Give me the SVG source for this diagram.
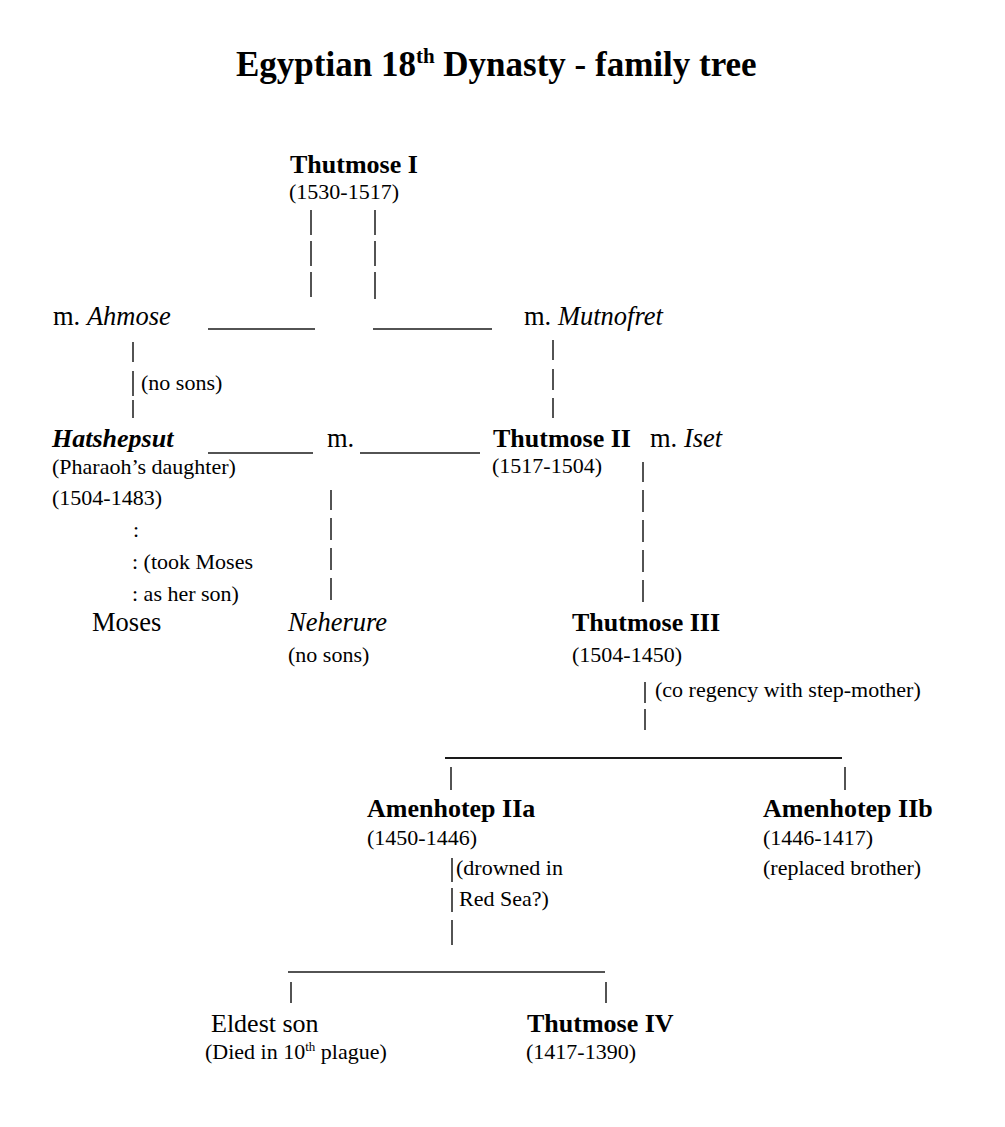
<svg xmlns="http://www.w3.org/2000/svg" width="1005" height="1127" viewBox="0 0 1005 1127">
<style>
text{font-family:"Liberation Serif","Times New Roman",serif;fill:#000}
.t{font-size:35px;font-weight:bold}
.n{font-size:26px}
.r{font-size:26.5px}
.b{font-weight:bold}
.i{font-style:italic}
.s{font-size:22px}
.c line{stroke:#1a1a1a;stroke-width:1.5}
.c .h{stroke-width:2}
</style>
<rect width="1005" height="1127" fill="#fff"/>
<g id="title">
<text class="t" x="236" y="76">Egyptian 18<tspan font-size="21" dy="-13">th</tspan><tspan dy="13"> Dynasty - family tree</tspan></text>
</g>
<g id="thutmose1"><text class="n b" x="290" y="173">Thutmose I</text><text class="s" x="289" y="199">(1530-1517)</text></g>
<g id="ahmose"><text class="r" x="53" y="325">m. <tspan class="i">Ahmose</tspan></text></g>
<g id="mutnofret"><text class="r" x="524" y="325">m. <tspan class="i">Mutnofret</tspan></text></g>
<g id="hatshepsut"><text class="n b i" x="52" y="447">Hatshepsut</text><text class="s" x="52" y="474">(Pharaoh’s daughter)</text><text class="s" x="52" y="505">(1504-1483)</text></g>
<g id="marriage"><text class="r" x="327" y="447">m.</text></g>
<g id="thutmose2"><text class="n b" x="493" y="447">Thutmose II</text><text class="s" x="492" y="473">(1517-1504)</text></g>
<g id="iset"><text class="r" x="650" y="447">m. <tspan class="i">Iset</tspan></text></g>
<g id="moses"><text class="r" x="92" y="631">Moses</text></g>
<g id="neherure"><text class="r i" x="288" y="631">Neherure</text><text class="s" x="288" y="662">(no sons)</text></g>
<g id="thutmose3"><text class="n b" x="572" y="631">Thutmose III</text><text class="s" x="572" y="662">(1504-1450)</text></g>
<g id="amenhotep2a"><text class="n b" x="367" y="817">Amenhotep IIa</text><text class="s" x="367" y="845">(1450-1446)</text></g>
<g id="amenhotep2b"><text class="n b" x="763" y="817">Amenhotep IIb</text><text class="s" x="763" y="845">(1446-1417)</text><text class="s" x="763" y="875">(replaced brother)</text></g>
<g id="eldest"><text class="n" x="211" y="1032">Eldest son</text><text class="s" x="205" y="1059">(Died in 10<tspan font-size="13" dy="-8">th</tspan><tspan dy="8"> plague)</tspan></text></g>
<g id="thutmose4"><text class="n b" x="527" y="1032">Thutmose IV</text><text class="s" x="526" y="1059">(1417-1390)</text></g>
<g id="connectors" class="c">
<line x1="311" y1="210" x2="311" y2="235"/><line x1="311" y1="241" x2="311" y2="266"/><line x1="311" y1="272" x2="311" y2="297"/>
<line x1="375" y1="210" x2="375" y2="235"/><line x1="375" y1="241" x2="375" y2="266"/><line x1="375" y1="272" x2="375" y2="299"/>
<line x1="208" y1="329" x2="315" y2="329"/><line x1="373" y1="329" x2="492" y2="329"/>
<line x1="133" y1="342" x2="133" y2="362"/><line x1="133" y1="371" x2="133" y2="396"/><line x1="133" y1="400" x2="133" y2="418"/>
<line x1="553" y1="340" x2="553" y2="360"/><line x1="553" y1="369" x2="553" y2="390"/><line x1="553" y1="398" x2="553" y2="418"/>
<line x1="208" y1="453" x2="313" y2="453"/><line x1="360" y1="453" x2="480" y2="453"/>
<line x1="643" y1="462" x2="643" y2="482"/><line x1="643" y1="490" x2="643" y2="512"/><line x1="643" y1="520" x2="643" y2="542"/><line x1="643" y1="550" x2="643" y2="572"/><line x1="643" y1="580" x2="643" y2="602"/>
<line x1="331" y1="490" x2="331" y2="510"/><line x1="331" y1="518" x2="331" y2="540"/><line x1="331" y1="548" x2="331" y2="570"/><line x1="331" y1="578" x2="331" y2="600"/>
<line x1="645" y1="682" x2="645" y2="703"/><line x1="645" y1="709" x2="645" y2="730"/>
<line class="h" x1="445" y1="758" x2="842" y2="758"/>
<line x1="451" y1="767" x2="451" y2="790"/><line x1="845" y1="767" x2="845" y2="790"/>
<line x1="452" y1="858" x2="452" y2="882"/><line x1="452" y1="888" x2="452" y2="912"/><line x1="452" y1="920" x2="452" y2="945"/>
<line x1="288" y1="972" x2="605" y2="972"/>
<line x1="291" y1="982" x2="291" y2="1003"/><line x1="606" y1="982" x2="606" y2="1003"/>
</g>
<g id="notes">
<text class="s" x="141" y="390">(no sons)</text>
<text class="s" x="133" y="537">:</text>
<text class="s" x="132" y="569">: (took Moses</text>
<text class="s" x="132" y="601">: as her son)</text>
<text class="s" x="655" y="697">(co regency with step-mother)</text>
<text class="s" x="456" y="875">(drowned in</text>
<text class="s" x="459" y="906">Red Sea?)</text>
</g>
</svg>
